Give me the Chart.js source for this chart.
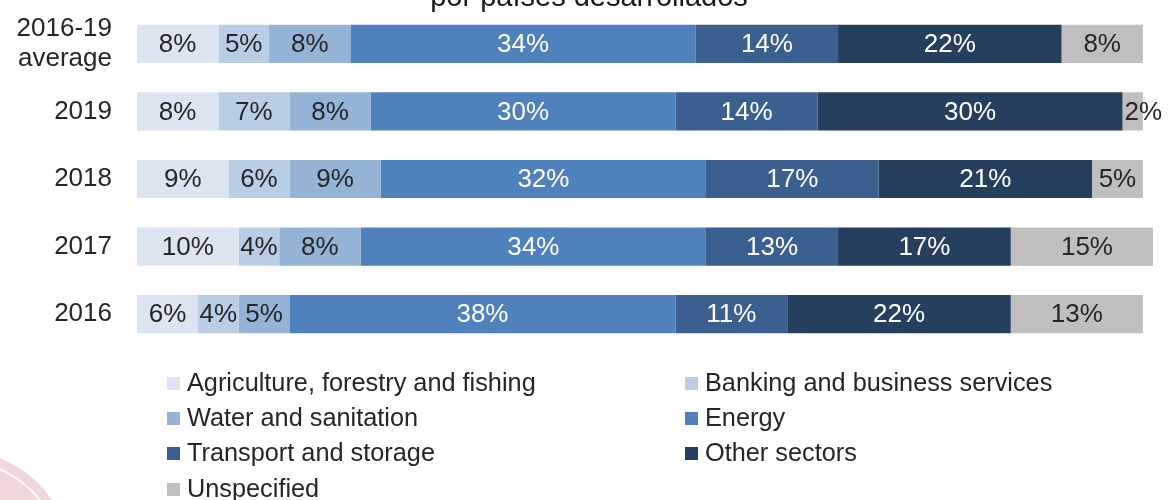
<!DOCTYPE html>
<html>
<head>
<meta charset="utf-8">
<script src="https://cdn.jsdelivr.net/npm/chart.js@4/dist/chart.umd.min.js"></script>
<style>
  html, body { margin: 0; padding: 0; background: #fff; }
  #wrap { position: relative; width: 1168px; height: 500px; }
</style>
</head>
<body>
<div id="wrap"><canvas id="sectorChart" width="1168" height="500"></canvas></div>
<script>
// Share of funding by sector, per year (percent)
const years = [['2016-19', 'average'], '2019', '2018', '2017', '2016'];
const agriculture = [8, 8, 9, 10, 6];
const banking = [5, 7, 6, 4, 4];
const water = [8, 8, 9, 8, 5];
const energy = [34, 30, 32, 34, 38];
const transport = [14, 14, 17, 13, 11];
const otherSectors = [22, 30, 21, 17, 22];
const unspecified = [8, 2, 5, 15, 13];

const sectorNames = [
    'Agriculture, forestry and fishing',
    'Banking and business services',
    'Water and sanitation',
    'Energy',
    'Transport and storage',
    'Other sectors',
    'Unspecified'
];
const sectorColors = ['#dbe4f0', '#b9cde4', '#95b3d7', '#4f81bd', '#3b5f8e', '#263f5e', '#bfbfbf'];
const labelColors = ['#262626', '#262626', '#262626', '#ffffff', '#ffffff', '#ffffff', '#262626'];
const titleText = 'por países desarrollados';

const FONT = '"Liberation Sans", Arial, sans-serif';

// percent labels inside each segment
const segmentLabels = {
    id: 'segmentLabels',
    afterDatasetsDraw(chart) {
        const ctx = chart.ctx;
        ctx.save();
        ctx.font = '26px ' + FONT;
        ctx.textBaseline = 'middle';
        chart.data.datasets.forEach((ds, i) => {
            const meta = chart.getDatasetMeta(i);
            meta.data.forEach((bar, j) => {
                const text = ds.data[j] + '%';
                const w = ctx.measureText(text).width;
                const left = Math.min(bar.x, bar.base);
                const width = Math.abs(bar.x - bar.base);
                ctx.fillStyle = labelColors[i];
                if (w > width - 2) {
                    ctx.textAlign = 'left';
                    ctx.fillText(text, left + 2, bar.y + 1);
                } else {
                    ctx.textAlign = 'center';
                    ctx.fillText(text, left + width / 2, bar.y + 1);
                }
            });
        });
        ctx.restore();
    }
};

// title, two-column legend and the faint seal in the corner
const decorations = {
    id: 'decorations',
    beforeDraw(chart) {
        const ctx = chart.ctx;
        ctx.save();
        ctx.fillStyle = 'rgba(214, 150, 158, 0.38)';
        ctx.beginPath();
        ctx.arc(-40, 562, 111, 0, Math.PI * 2);
        ctx.fill();
        ctx.strokeStyle = 'rgba(255,255,255,0.9)';
        ctx.lineWidth = 2;
        ctx.beginPath();
        ctx.arc(-40, 562, 101, 0, Math.PI * 2);
        ctx.stroke();
        ctx.restore();
    },
    afterDraw(chart) {
        const ctx = chart.ctx;
        ctx.save();
        ctx.fillStyle = '#1a1a1a';
        ctx.font = '29px ' + FONT;
        ctx.textAlign = 'center';
        ctx.textBaseline = 'alphabetic';
        ctx.fillText(titleText, 589, 6);

        ctx.font = '25.3px ' + FONT;
        ctx.textAlign = 'left';
        ctx.textBaseline = 'middle';
        const colX = [167, 685];
        const rowY = [383, 418, 453, 489];
        sectorNames.forEach((name, i) => {
            const x = colX[i % 2];
            const y = rowY[Math.floor(i / 2)];
            ctx.fillStyle = sectorColors[i];
            ctx.fillRect(x, y - 6, 13, 13);
            ctx.fillStyle = '#262626';
            ctx.fillText(name, x + 20, y + 1);
        });
        ctx.restore();
    }
};

const seriesValues = [agriculture, banking, water, energy, transport, otherSectors, unspecified];

new Chart(document.getElementById('sectorChart'), {
    type: 'bar',
    data: {
        labels: years,
        datasets: seriesValues.map((values, i) => ({
            label: sectorNames[i],
            data: values,
            backgroundColor: sectorColors[i],
            borderWidth: 0,
            barPercentage: 0.565,
            categoryPercentage: 1
        }))
    },
    options: {
        indexAxis: 'y',
        responsive: false,
        animation: false,
        layout: { padding: { top: 10, bottom: 152, left: 0, right: 15 } },
        scales: {
            x: {
                stacked: true,
                min: 0,
                max: 100,
                display: false
            },
            y: {
                stacked: true,
                grid: { display: false, drawTicks: false },
                border: { display: false },
                ticks: {
                    color: '#262626',
                    padding: 25,
                    font: { family: FONT, size: 26, lineHeight: 1.15 }
                },
                afterFit(scale) {
                    scale.width = 137;
                    scale.paddingTop = 0;
                    scale.paddingBottom = 0;
                }
            }
        },
        plugins: {
            legend: { display: false },
            tooltip: { enabled: false }
        }
    },
    plugins: [decorations, segmentLabels]
});
</script>
</body>
</html>
